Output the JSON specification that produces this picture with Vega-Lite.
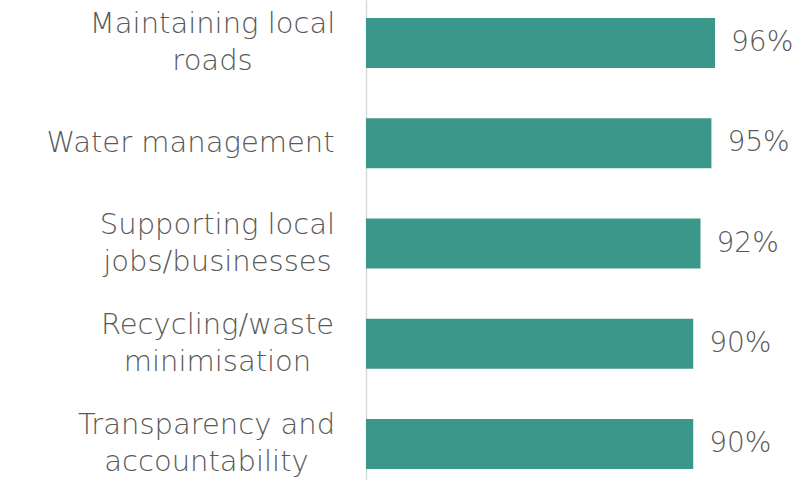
{
  "$schema": "https://vega.github.io/schema/vega-lite/v6.json",
  "autosize": "none",
  "width": 363.6,
  "height": 480,
  "padding": {"left": 366, "top": 0, "right": 77.4, "bottom": 0},
  "background": "white",
  "config": {"view": {"stroke": null}},
  "data": {"values": [
    {"category": "Maintaining local|roads", "value": 0.96},
    {"category": "Water management", "value": 0.95},
    {"category": "Supporting local|jobs/businesses", "value": 0.92},
    {"category": "Recycling/waste|minimisation", "value": 0.90},
    {"category": "Transparency and|accountability", "value": 0.90}
  ]},
  "encoding": {
    "y": {
      "field": "category", "type": "nominal", "sort": null,
      "scale": {"paddingInner": 0.5, "paddingOuter": 0.144, "align": 0.623},
      "axis": {
        "title": null, "ticks": false, "domainColor": "#d9d9d9", "domainWidth": 1.5,
        "labelExpr": "split(datum.label, '|')",
        "labelFont": "DejaVu Sans", "labelFontSize": 29, "labelFontWeight": 200, "labelColor": "#595959",
        "labelLineHeight": 37, "labelLimit": 400, "labelAlign": "center",
        "labelOffset": {
          "condition": {"test": "datum.value == 'Water management'", "value": 0},
          "value": -19
        },
        "labelPadding": {
          "condition": [
            {"test": "datum.value == 'Maintaining local|roads'", "value": 154},
            {"test": "datum.value == 'Water management'", "value": 176},
            {"test": "datum.value == 'Supporting local|jobs/businesses'", "value": 149},
            {"test": "datum.value == 'Recycling/waste|minimisation'", "value": 149}
          ],
          "value": 160
        }
      }
    },
    "x": {
      "field": "value", "type": "quantitative",
      "scale": {"domain": [0, 1]},
      "axis": null
    }
  },
  "layer": [
    {"mark": {"type": "bar", "color": "#3b978a"}},
    {
      "mark": {"type": "text", "align": "left", "baseline": "middle", "dx": 16, "font": "DejaVu Sans", "fontWeight": 200, "fontSize": 28, "color": "#595959"},
      "encoding": {"text": {"field": "value", "type": "quantitative", "format": ".0%"}}
    }
  ]
}
